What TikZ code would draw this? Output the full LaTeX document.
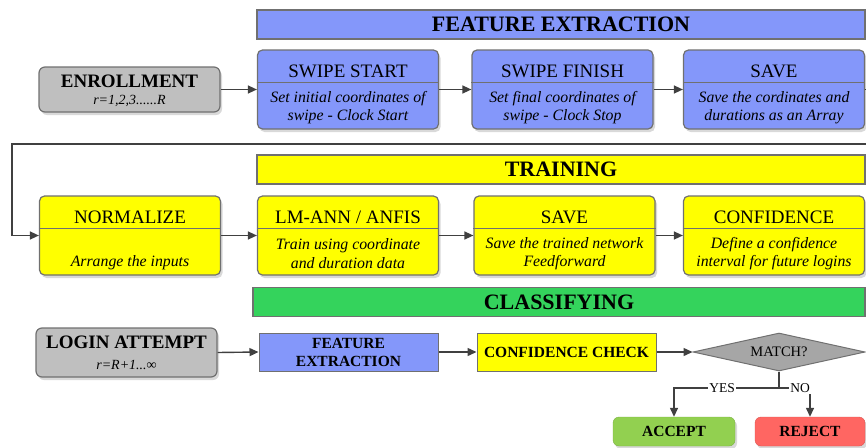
\documentclass[tikz,border=0pt]{standalone}
\usepackage{fontspec}
\setmainfont{Liberation Serif}
\usetikzlibrary{arrows.meta,shapes.geometric,shadows}

\definecolor{feblue}{RGB}{132,151,250}
\definecolor{tryellow}{RGB}{255,255,0}
\definecolor{clgreen}{RGB}{52,211,92}
\definecolor{boxgray}{RGB}{191,191,191}
\definecolor{dgray}{RGB}{166,166,166}
\definecolor{edgegray}{RGB}{112,112,112}
\definecolor{arrowgray}{RGB}{64,64,64}
\definecolor{okgreen}{RGB}{146,208,80}
\definecolor{nored}{RGB}{255,102,98}

\begin{document}
\begin{tikzpicture}[x=1pt,y=-1pt,>={Triangle[length=9pt,width=8pt]},
  line/.style={draw=arrowgray,line width=1.4pt},
  shade/.style={drop shadow={shadow xshift=2pt,shadow yshift=-3pt,opacity=0.3,fill=gray}},
  box/.style={draw=edgegray,line width=1.2pt,rounded corners=5pt,minimum width=181pt,minimum height=79pt,shade},
  gbox/.style={draw=edgegray,fill=boxgray,line width=1.2pt,rounded corners=6pt,minimum width=181pt,shade},
  flat/.style={draw=edgegray,line width=1pt,minimum width=179pt,minimum height=38pt,align=center,
    font=\fontsize{15.5}{18}\selectfont\bfseries},
  banner/.style={draw=edgegray,line width=1.2pt,minimum height=29pt,font=\fontsize{22}{26}\selectfont\bfseries},
  ttl/.style={font=\fontsize{19}{22}\selectfont,anchor=base,inner sep=0},
  dsc/.style={font=\fontsize{15.8}{18.5}\selectfont\itshape,align=center,inner sep=0},
  lbl/.style={fill=white,inner sep=1pt,font=\fontsize{13.5}{16}\selectfont}]

\useasboundingbox (0,0) rectangle (866,447);

\node[banner,fill=feblue,minimum width=608pt] (bfe) at (561,24.5) {FEATURE EXTRACTION};
\node[banner,fill=tryellow,minimum width=608pt] (btr) at (561,169.5) {TRAINING};
\node[banner,fill=clgreen,minimum width=612pt] (bcl) at (559,302) {CLASSIFYING};

\foreach \nm/\cx/\tp/\col/\ttl/\dsc in {
  swstart/348/50/feblue/SWIPE START/{Set initial coordinates of\\swipe - Clock Start},
  swfinish/562.5/50/feblue/SWIPE FINISH/{Set final coordinates of\\swipe - Clock Stop},
  fsave/774/50/feblue/SAVE/{Save the cordinates and\\durations as an Array},
  norm/130/196/tryellow/NORMALIZE/{\vphantom{Sg}\\Arrange the inputs},
  train/348/196/tryellow/{LM-ANN / ANFIS}/{Train using coordinate\\and duration data},
  tsave/564.5/196/tryellow/SAVE/{Save the trained network\\Feedforward},
  conf/774/196/tryellow/CONFIDENCE/{Define a confidence\\interval for future logins}}{
  \node[box,fill=\col] (\nm) at (\cx,\tp+39.5) {};
  \draw[edgegray,line width=1pt] ([yshift=-33pt]\nm.north west) -- ([yshift=-33pt]\nm.north east);
  \node[ttl] (\nm-t) at (\cx,\tp+27) {\ttl};
  \node[dsc] (\nm-d) at (\cx,\tp+57.75) {\dsc};
}

\node[gbox,minimum height=45pt] (enroll) at (129.5,89.5) {};
\node[ttl,font=\fontsize{19}{22}\selectfont\bfseries] (enroll-t) at (129.5,87) {ENROLLMENT};
\node[ttl,font=\fontsize{14}{16}\selectfont\itshape] (enroll-d) at (129.5,104) {r=1,2,3......R};

\node[gbox,minimum height=49pt] (login) at (126.5,352.5) {};
\node[ttl,font=\fontsize{19}{22}\selectfont\bfseries] (login-t) at (126.5,348) {LOGIN ATTEMPT};
\node[ttl,font=\fontsize{14}{16}\selectfont\itshape] (login-d) at (126.5,369) {r=R+1...∞};

\node[flat,fill=feblue] (fext) at (348.5,352) {FEATURE\\EXTRACTION};
\node[flat,fill=tryellow] (ccheck) at (566.5,352) {CONFIDENCE CHECK};
\node[diamond,aspect=4.5,draw=edgegray,fill=dgray,line width=1pt,inner sep=0,
  minimum width=172pt,minimum height=38pt,font=\fontsize{14.5}{17}\selectfont] (match) at (779,352) {MATCH?};

\node[draw=okgreen!85!black,fill=okgreen,rounded corners=6pt,minimum width=122pt,minimum height=29pt,
  font=\fontsize{15.5}{18}\selectfont\bfseries,shade] (accept) at (674,431.5) {ACCEPT};
\node[draw=nored!85!black,fill=nored,rounded corners=6pt,minimum width=110pt,minimum height=29pt,
  font=\fontsize{15.5}{18}\selectfont\bfseries,shade] (reject) at (810,431.5) {REJECT};

\foreach \a/\b in {enroll/swstart,swstart/swfinish,swfinish/fsave,norm/train,train/tsave,tsave/conf,
  login/fext,fext/ccheck,ccheck/match}
  \draw[line,->] (\a.east) -- (\b.west);

\coordinate (loopA) at (868,89.5);
\coordinate (loopB) at (12,144);
\draw[line,->] (fsave.east) -- (loopA) |- (loopB) |- (norm.west);

\coordinate (split) at (779,388);
\draw[line] (match.south) -- (split);
\draw[line,->] (split) -| (accept.north);
\draw[line,->] (split) -| (reject.north);
\node[lbl] (yes) at (722,388) {YES};
\node[lbl] (no) at (800,388) {NO};

\end{tikzpicture}
\end{document}
